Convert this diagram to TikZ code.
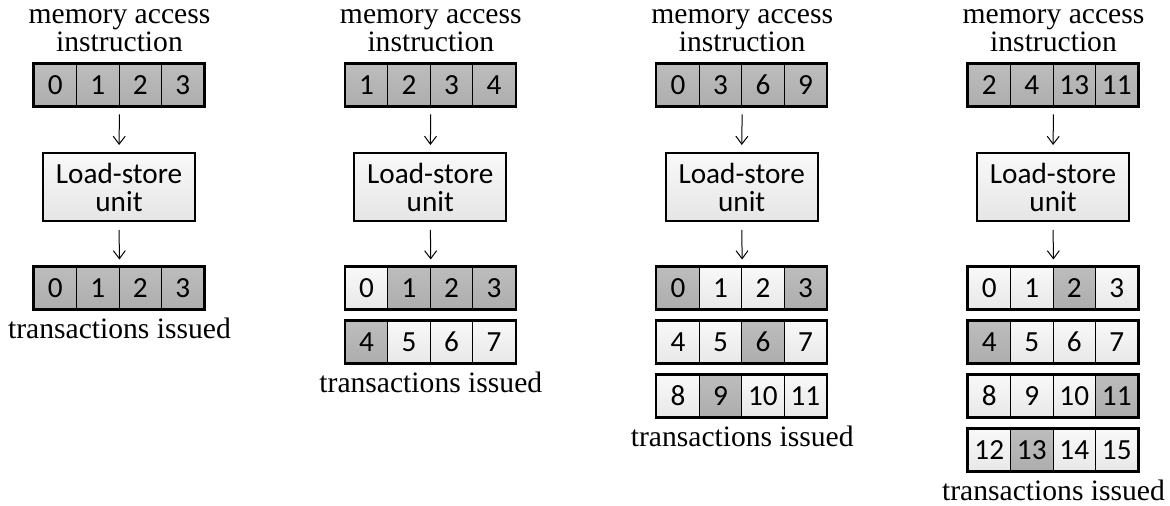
\documentclass[tikz,border=0pt]{standalone}
\usepackage{fontspec}
\setmainfont{Liberation Serif}
\newfontfamily\carlito{Carlito}
\usetikzlibrary{positioning,arrows.meta,shadings}

% one row of four memory words: name, y, list of value/style
\newcommand{\memrow}[3]{%
  \foreach \v/\s [count=\i from 0] in {#3}
    \node[\s] (#1-\i) at ({42.5*\i-63.75},#2) {\v};
  \draw[frame] (#1-0.north west) rectangle (#1-3.south east);
}

\begin{document}
\begin{tikzpicture}[x=0.5pt,y=-0.5pt,
        cell/.style={draw,line width=0.5pt,minimum width=21.25pt,minimum height=21pt,inner sep=0pt,
            font={\carlito\fontsize{14.6}{17}\selectfont}},
        hit/.style={cell,top color=gray!52,bottom color=gray!64},
        miss/.style={cell,top color=gray!5,bottom color=gray!18},
        frame/.style={line width=1.25pt},
        lsu/.style={draw,line width=1pt,minimum width=76pt,minimum height=34pt,inner sep=0pt,align=center,
            top color=gray!5,bottom color=gray!20,font={\carlito\fontsize{14.6}{14}\selectfont}},
        caption/.style={align=center,inner sep=0pt,font={\fontsize{14.8}{14}\selectfont}},
        link/.style={-{Straight Barb[length=4pt,width=6pt]},line width=0.5pt,shorten <=4pt,shorten >=3.5pt}]
    \useasboundingbox (0,0) rectangle (1170,506);

    % fully coalesced access
    \begin{scope}[xshift=59.5pt]
        \memrow{a-in}{85}{0/hit,1/hit,2/hit,3/hit}
        \node[caption,above=5.5pt of a-in-1.north east] (a-title) {memory access\\instruction};
        \node[lsu] (a-lsu) at (0,187) {Load-store\\unit};
        \memrow{a-out0}{288}{0/hit,1/hit,2/hit,3/hit}
        \node[caption,below=4pt of a-out0-1.south east] (a-label) {transactions issued};
        \draw[link] (a-in-1.south east) -- (a-lsu.north);
        \draw[link] (a-lsu.south) -- (a-out0-1.north east);
    \end{scope}

    % misaligned access
    \begin{scope}[xshift=215.15pt]
        \memrow{b-in}{85}{1/hit,2/hit,3/hit,4/hit}
        \node[caption,above=5.5pt of b-in-1.north east] (b-title) {memory access\\instruction};
        \node[lsu] (b-lsu) at (0,187) {Load-store\\unit};
        \memrow{b-out0}{288}{0/miss,1/hit,2/hit,3/hit}
        \memrow{b-out1}{342}{4/hit,5/miss,6/miss,7/miss}
        \node[caption,below=4pt of b-out1-1.south east] (b-label) {transactions issued};
        \draw[link] (b-in-1.south east) -- (b-lsu.north);
        \draw[link] (b-lsu.south) -- (b-out0-1.north east);
    \end{scope}

    % strided access
    \begin{scope}[xshift=370.85pt]
        \memrow{c-in}{85}{0/hit,3/hit,6/hit,9/hit}
        \node[caption,above=5.5pt of c-in-1.north east] (c-title) {memory access\\instruction};
        \node[lsu] (c-lsu) at (0,187) {Load-store\\unit};
        \memrow{c-out0}{288}{0/hit,1/miss,2/miss,3/hit}
        \memrow{c-out1}{342}{4/miss,5/miss,6/hit,7/miss}
        \memrow{c-out2}{396}{8/miss,9/hit,10/miss,11/miss}
        \node[caption,below=4pt of c-out2-1.south east] (c-label) {transactions issued};
        \draw[link] (c-in-1.south east) -- (c-lsu.north);
        \draw[link] (c-lsu.south) -- (c-out0-1.north east);
    \end{scope}

    % scattered access
    \begin{scope}[xshift=526.5pt]
        \memrow{d-in}{85}{2/hit,4/hit,13/hit,11/hit}
        \node[caption,above=5.5pt of d-in-1.north east] (d-title) {memory access\\instruction};
        \node[lsu] (d-lsu) at (0,187) {Load-store\\unit};
        \memrow{d-out0}{288}{0/miss,1/miss,2/hit,3/miss}
        \memrow{d-out1}{342}{4/hit,5/miss,6/miss,7/miss}
        \memrow{d-out2}{396}{8/miss,9/miss,10/miss,11/hit}
        \memrow{d-out3}{450}{12/miss,13/hit,14/miss,15/miss}
        \node[caption,below=4pt of d-out3-1.south east] (d-label) {transactions issued};
        \draw[link] (d-in-1.south east) -- (d-lsu.north);
        \draw[link] (d-lsu.south) -- (d-out0-1.north east);
    \end{scope}
\end{tikzpicture}
\end{document}
